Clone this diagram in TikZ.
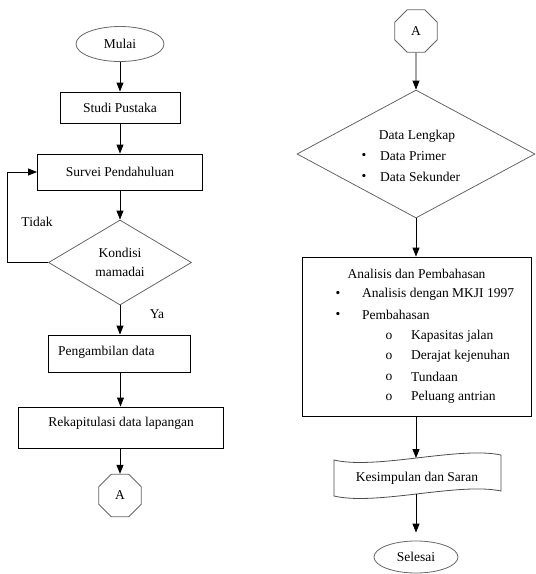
\documentclass[tikz,border=0pt]{standalone}
\usepackage{fontspec}
\setmainfont{Liberation Serif}
\usetikzlibrary{shapes.geometric,arrows.meta}
\begin{document}
\begin{tikzpicture}[x=1pt,y=-1pt,
 every node/.style={font=\fontsize{13.5}{19}\selectfont, inner sep=0pt},
 box/.style={draw=black, line width=0.9pt, rectangle},
 term/.style={draw=black!60, line width=0.8pt, ellipse},
 dec/.style={draw=black!60, line width=0.8pt, diamond},
 conn/.style={draw=black!60, line width=0.8pt, regular polygon, regular polygon sides=8, minimum size=46pt},
 arr/.style={line width=0.9pt, -{Triangle[length=9pt,width=7pt]}},
 tapestyle/.style={draw=black!70, line width=0.8pt}]
\useasboundingbox (0,0) rectangle (536,574);
% left column
\node[term, minimum width=88pt, minimum height=35pt] (mulai) at (120,44) {Mulai};
\node[box, minimum width=120pt, minimum height=31pt] (studi) at (120,107.5) {Studi Pustaka};
\node[box, minimum width=165pt, minimum height=36pt] (survei) at (120,172) {Survei Pendahuluan};
\node[dec, aspect=1.68, minimum width=143pt, minimum height=85pt, align=center] (kondisi) at (120,262.5) {Kondisi\\mamadai};
\node (tidak) at (37,222) {Tidak};
\node (ya) at (157,314) {Ya};
\node[box, minimum width=142pt, minimum height=37pt] (peng) at (119.5,353.5) {};
\node[anchor=west] (pengtxt) at (58,352) {Pengambilan data};
\node[box, minimum width=205pt, minimum height=41pt] (rekap) at (120.5,427.5) {};
\node (rekaptxt) at (121,423) {Rekapitulasi data lapangan};
\node[conn] (a1) at (120,495.5) {A};
% right column
\node[conn] (a2) at (416,31) {A};
\node[dec, minimum width=238pt, minimum height=128pt] (data) at (416,154) {};
\node (dl) at (417,136) {Data Lengkap};
\node (db1) at (364,156) {•};
\node[anchor=west] (dp) at (380,156) {Data Primer};
\node (db2) at (364,177) {•};
\node[anchor=west] (ds) at (380,177) {Data Sekunder};
\node[box, minimum width=229pt, minimum height=159pt] (anal) at (416.5,336.5) {};
\node (ap) at (416.5,274) {Analisis dan Pembahasan};
\node (ab1) at (338,294) {•};
\node[anchor=west] (at1) at (362,294) {Analisis dengan MKJI 1997};
\node (ab2) at (338,315) {•};
\node[anchor=west] (at2) at (362,315) {Pembahasan};
\node (o1) at (389,336) {o};
\node[anchor=west] (k1) at (411,336) {Kapasitas jalan};
\node (o2) at (389,356) {o};
\node[anchor=west] (k2) at (411,356) {Derajat kejenuhan};
\node (o3) at (389,377) {o};
\node[anchor=west] (k3) at (411,377) {Tundaan};
\node (o4) at (389,397) {o};
\node[anchor=west] (k4) at (411,397) {Peluang antrian};
\draw[tapestyle] (334,460) .. controls (376,470) and (459,446) .. (501,455) -- (501,491) .. controls (459,482) and (376,506) .. (334,496) -- cycle;
\coordinate (tapetop) at (416,458);
\coordinate (tapebot) at (416,494);
\node (kes) at (417,478) {Kesimpulan dan Saran};
\node[term, minimum width=84pt, minimum height=32pt] (selesai) at (416,557) {Selesai};
% connectors
\draw[arr] (mulai) -- (studi);
\draw[arr] (studi) -- (survei);
\draw[arr] (survei) -- (kondisi);
\draw[arr] (kondisi.west) -- ++(-41,0) |- (survei.west);
\draw[arr] (kondisi.south) -- (kondisi.south |- peng.north);
\draw[arr] (peng.south -| rekap.north) -- (rekap.north);
\draw[arr] (rekap.south -| a1.north) -- (a1.north);
\draw[arr] (a2) -- (data.north);
\draw[arr] (data.south) -- (data.south |- anal.north);
\draw[arr] (anal.south -| tapetop) -- (tapetop);
\draw[arr, shorten >=8pt] (tapebot) -- (selesai.north);
\end{tikzpicture}
\end{document}
